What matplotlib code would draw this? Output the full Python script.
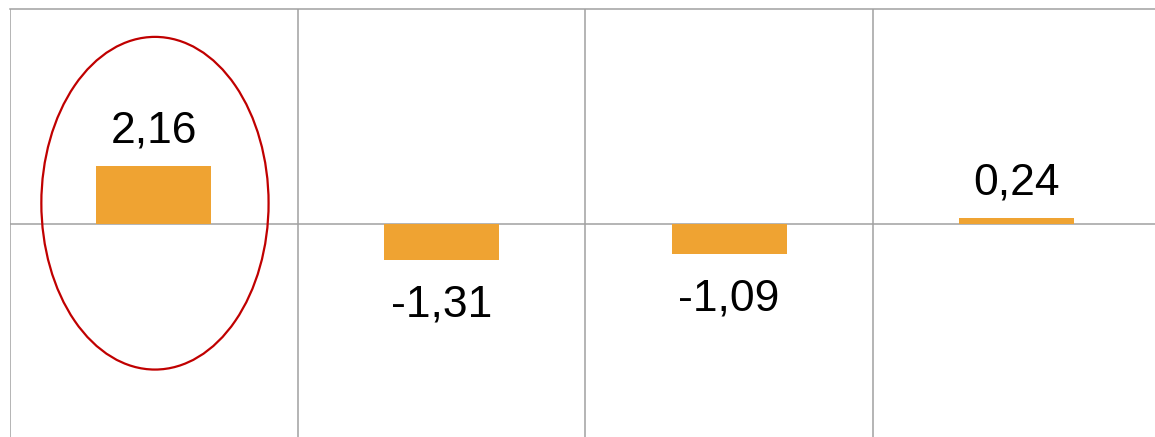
import matplotlib.pyplot as plt
from matplotlib.patches import Ellipse

categories = ['A', 'B', 'C', 'D']
values = [2.16, -1.31, -1.09, 0.24]
labels = ['2,16', '-1,31', '-1,09', '0,24']

plt.rcParams['font.family'] = ['Liberation Sans', 'DejaVu Sans']

fig = plt.figure(figsize=(11.55, 4.37), dpi=100)
ax = fig.add_axes([10 / 1155, -3 / 437, 1150.5 / 1155, 431 / 437])

x = range(len(categories))
bars = ax.bar(x, values, width=0.4, color='#EFA332', zorder=3)

grid = '#A0A0A0'
for b in [i - 0.5 for i in range(len(categories) + 1)]:
    ax.axvline(b, color=grid, lw=1.1, zorder=1)
ax.axhline(0, color=grid, lw=1.1, zorder=2)

for rect, v, lab in zip(bars, values, labels):
    cx = rect.get_x() + rect.get_width() / 2
    if v >= 0:
        ax.annotate(lab, (cx, v), xytext=(0, 17), textcoords='offset points',
                    ha='center', va='baseline', fontsize=32)
    else:
        ax.annotate(lab, (cx, v), xytext=(0, -18), textcoords='offset points',
                    ha='center', va='top', fontsize=32)

# red highlight around the first bar
ax.add_patch(Ellipse((0.004, 0.79), 0.79, 12.35, fill=False,
                     edgecolor='#C00000', lw=1.6, zorder=4))

ax.set_xlim(-0.5, 3.5)
ax.set_ylim(-8, 8)
ax.set_xticks([])
ax.set_yticks([])
for s in ['right', 'bottom', 'left']:
    ax.spines[s].set_visible(False)
ax.spines['top'].set_color(grid)
ax.spines['top'].set_linewidth(1.1)

fig.savefig('out.png', dpi=100)
